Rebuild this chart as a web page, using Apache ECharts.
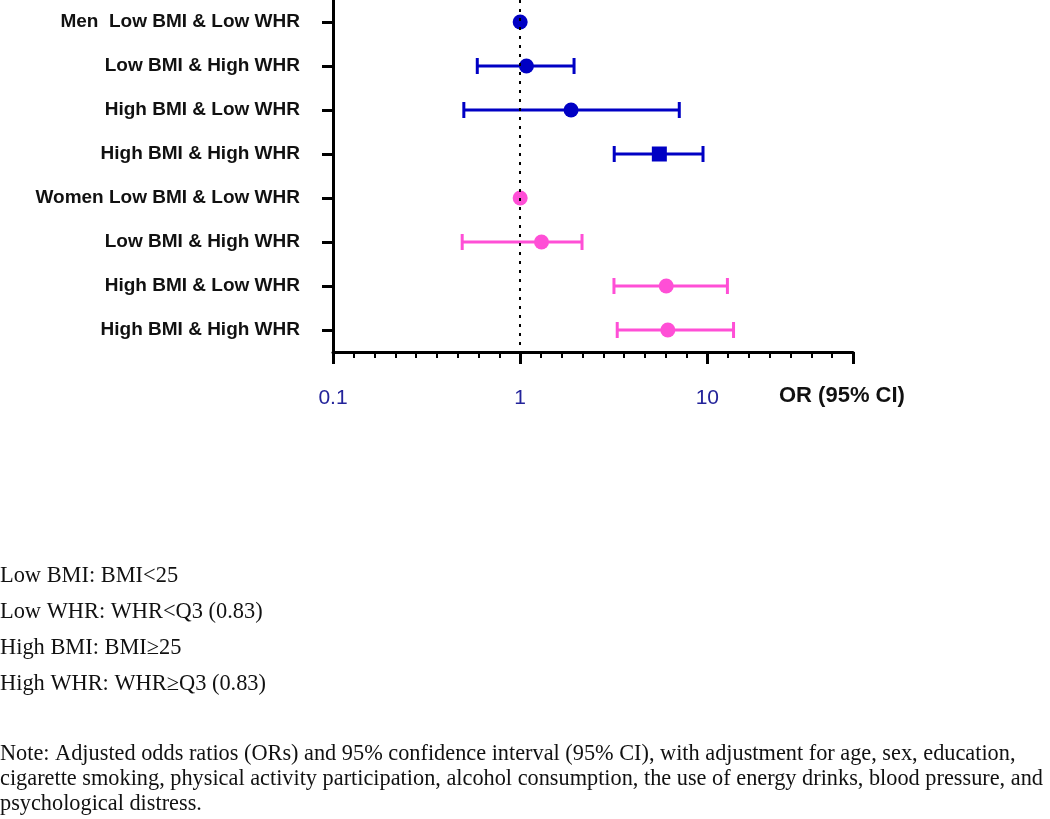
<!DOCTYPE html>
<html>
<head>
<meta charset="utf-8">
<script src="https://cdn.jsdelivr.net/npm/echarts@6/dist/echarts.min.js"></script>
<style>
html,body{margin:0;padding:0;background:#fff;}
#chart{width:1050px;height:819px;}
</style>
</head>
<body>
<div id="chart"></div>
<script>
// ---- data ----
const categories = [
  'Men  Low BMI & Low WHR', 'Low BMI & High WHR', 'High BMI & Low WHR', 'High BMI & High WHR',
  'Women Low BMI & Low WHR', 'Low BMI & High WHR', 'High BMI & Low WHR', 'High BMI & High WHR'
];
const menOR    = [1.00, 1.08, 1.87, 5.54];
const menLow   = [null, 0.59, 0.50, 3.18];
const menHigh  = [null, 1.94, 7.08, 9.48];
const womenOR   = [1.00, 1.30, 6.03, 6.15];
const womenLow  = [null, 0.49, 3.17, 3.30];
const womenHigh = [null, 2.14, 12.8, 13.8];
const xTickLabels = ['0.1', '1', '10'];
const axisTitle = 'OR (95% CI)';
const definitions = [
  'Low BMI: BMI<25',
  'Low WHR: WHR<Q3 (0.83)',
  'High BMI: BMI\u226525',
  'High WHR: WHR\u2265Q3 (0.83)'
];
const noteLines = [
  'Note: Adjusted odds ratios (ORs) and 95% confidence interval (95% CI), with adjustment for age, sex, education,',
  'cigarette smoking, physical activity participation, alcohol consumption, the use of energy drinks, blood pressure, and',
  'psychological distress.'
];

const BLUE = '#0000c4';
const PINK = '#ff4fd6';

function pointData(vals, offset, squareIdx) {
  return vals.map((v, i) => {
    const d = { value: [v, i + offset] };
    if (squareIdx === i) d.symbol = 'rect';
    return d;
  });
}
function barData(lo, hi, offset) {
  const out = [];
  lo.forEach((l, i) => { if (l != null) out.push([l, hi[i], i + offset]); });
  return out;
}
function errRender(color) {
  return function (params, api) {
    const a = api.coord([api.value(0), api.value(2)]);
    const b = api.coord([api.value(1), api.value(2)]);
    const h = 8;
    const st = { stroke: color, lineWidth: 3 };
    return {
      type: 'group',
      children: [
        { type: 'line', shape: { x1: a[0], y1: a[1], x2: b[0], y2: b[1] }, style: st },
        { type: 'line', shape: { x1: a[0], y1: a[1] - h, x2: a[0], y2: a[1] + h }, style: st },
        { type: 'line', shape: { x1: b[0], y1: b[1] - h, x2: b[0], y2: b[1] + h }, style: st }
      ]
    };
  };
}

const chart = echarts.init(document.getElementById('chart'), null, { renderer: 'canvas' });

const graphics = [];
graphics.push({
  type: 'text', left: 779, top: 385,
  style: { text: axisTitle, font: 'bold 22px "Liberation Sans", Arial, sans-serif', fill: '#111' }
});
definitions.forEach((t, i) => {
  graphics.push({
    type: 'text', left: 0, top: 565 + i * 36,
    style: { text: t, font: '22.4px "Liberation Serif", "Times New Roman", serif', fill: '#111' }
  });
});
noteLines.forEach((t, i) => {
  graphics.push({
    type: 'text', left: 0, top: 743 + i * 25,
    style: { text: t, font: '22.3px "Liberation Serif", "Times New Roman", serif', fill: '#111' }
  });
});

chart.setOption({
  animation: false,
  backgroundColor: '#fff',
  grid: { left: 333, right: 197, top: 0, bottom: 467, containLabel: false },
  xAxis: [
    {
      type: 'log', logBase: 10, min: 0.1, max: 60,
      axisLine: { show: true, onZero: false, lineStyle: { color: '#000', width: 3 } },
      axisTick: { show: true, length: 12, lineStyle: { color: '#000', width: 3 } },
      axisLabel: {
        margin: 36, fontSize: 21, color: '#23239a',
        fontFamily: '"Liberation Sans", Arial, sans-serif',
        formatter: function (v) {
          const s = String(+v.toPrecision(6));
          return xTickLabels.indexOf(s) >= 0 ? s : '';
        }
      },
      splitLine: { show: false }
    },
    {
      type: 'value', min: -9, max: 16, interval: 1, position: 'bottom',
      axisLine: { show: false, onZero: false },
      axisTick: { show: true, length: 6, lineStyle: { color: '#000', width: 2 } },
      axisLabel: { show: false },
      splitLine: { show: false }
    }
  ],
  yAxis: [
    {
      type: 'category', data: categories, inverse: true, position: 'left',
      axisLine: { show: true, onZero: false, lineStyle: { color: '#000', width: 3 } },
      axisTick: { show: false },
      axisLabel: {
        margin: 33, fontSize: 19, fontWeight: 'bold', color: '#111',
        fontFamily: '"Liberation Sans", Arial, sans-serif'
      },
      splitLine: { show: false }
    },
    {
      type: 'category', data: categories, inverse: true, position: 'left', offset: -2,
      axisLine: { show: false, onZero: false },
      axisTick: { show: true, alignWithLabel: true, length: 13, lineStyle: { color: '#000', width: 3 } },
      axisLabel: { show: false },
      splitLine: { show: false }
    }
  ],
  series: [
    {
      type: 'custom', name: 'Men CI', xAxisIndex: 0, yAxisIndex: 0,
      renderItem: errRender(BLUE), encode: { x: [0, 1], y: 2 },
      data: barData(menLow, menHigh, 0), z: 3
    },
    {
      type: 'custom', name: 'Women CI', xAxisIndex: 0, yAxisIndex: 0,
      renderItem: errRender(PINK), encode: { x: [0, 1], y: 2 },
      data: barData(womenLow, womenHigh, 4), z: 3
    },
    {
      type: 'scatter', name: 'Men', xAxisIndex: 0, yAxisIndex: 0, symbol: 'circle', symbolSize: 15,
      itemStyle: { color: BLUE, opacity: 1 }, z: 4,
      data: pointData(menOR, 0, 3),
      markLine: {
        silent: true, symbol: ['none', 'none'], label: { show: false },
        lineStyle: { color: '#000', type: [3, 6], width: 2 },
        data: [{ xAxis: 1 }]
      }
    },
    {
      type: 'scatter', name: 'Women', xAxisIndex: 0, yAxisIndex: 0, symbol: 'circle', symbolSize: 15,
      itemStyle: { color: PINK, opacity: 1 }, z: 4,
      data: pointData(womenOR, 4, -1)
    }
  ],
  graphic: graphics
});
</script>
</body>
</html>
